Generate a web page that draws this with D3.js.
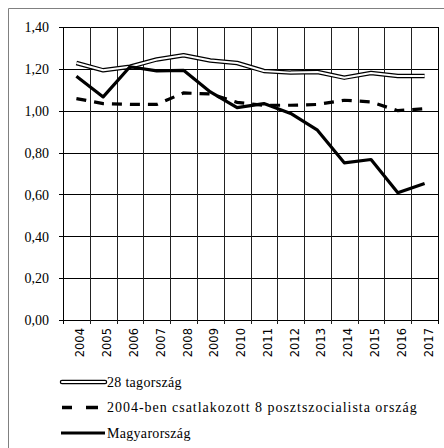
<!DOCTYPE html>
<html>
<head>
<meta charset="utf-8">
<script src="https://cdn.jsdelivr.net/npm/d3@7"></script>
<style>
body { margin: 0; background: #fff; }
svg { display: block; }
.serif { font-family: "Liberation Serif", "DejaVu Serif", serif; }
.sans { font-family: "DejaVu Sans", sans-serif; }
</style>
</head>
<body>
<svg width="444" height="448"></svg>
<script>
var years = ["2004","2005","2006","2007","2008","2009","2010","2011","2012","2013","2014","2015","2016","2017"]
var eu28 = [1.228, 1.193, 1.21, 1.245, 1.265, 1.24, 1.228, 1.19, 1.182, 1.185, 1.158, 1.18, 1.166, 1.166]
var nms8 = [1.058, 1.034, 1.03, 1.03, 1.085, 1.08, 1.04, 1.026, 1.026, 1.03, 1.05, 1.042, 1.0, 1.01]
var hu = [1.165, 1.066, 1.21, 1.19, 1.193, 1.09, 1.015, 1.034, 0.987, 0.907, 0.751, 0.767, 0.608, 0.652]
var yTicks = [0, 0.2, 0.4, 0.6, 0.8, 1.0, 1.2, 1.4]
var legendNames = ["28 tagország", "2004-ben csatlakozott 8 posztszocialista ország", "Magyarország"]

var svg = d3.select("svg")
var pLeft = 63, pRight = 438, pTop = 27, pBottom = 320

// outer frame (only top and left edges are inside the picture)
svg.append("path")
	.attr("d", "M8.5,448 V8.5 H444")
	.attr("fill", "none")
	.attr("stroke", "#808080")
	.attr("stroke-width", 1)

var x = d3.scaleBand().domain(years).range([pLeft, pRight])
var y = d3.scaleLinear().domain([0, 1.4]).range([pBottom, pTop])
var fmt = function(d){ return d3.format(".2f")(d).replace(".", ",") }

// horizontal grid + y axis
var ya = svg.append("g")
	.attr("transform", "translate(" + pLeft + ",0)")
	.call(d3.axisLeft(y).tickValues(yTicks).tickSize(-(pRight - pLeft)).tickPadding(10).tickFormat(fmt))
ya.select(".domain").remove()
ya.attr("font-family", null).attr("font-size", null)
ya.selectAll(".tick line").attr("stroke", "#000").attr("x1", -4).attr("shape-rendering", "crispEdges")
ya.selectAll(".tick text").attr("x", -14).attr("dy", "0.34em").attr("class", "serif").style("font-size", "14px").attr("fill", "#000")

// vertical grid at category boundaries
var bounds = years.map(function(d){ return x(d) }).concat([pRight])
svg.append("g").selectAll("line").data(bounds).enter().append("line")
	.attr("x1", function(d){ return Math.round(d) + 0.5 })
	.attr("x2", function(d){ return Math.round(d) + 0.5 })
	.attr("y1", pTop)
	.attr("y2", pBottom + 4)
	.attr("stroke", function(d, i){ return i == 0 || i == bounds.length - 1 ? "#000" : "#222" })
	.attr("stroke-width", 1)

// year labels
svg.append("g").selectAll("text").data(years).enter().append("text")
	.attr("transform", function(d){ return "translate(" + (x(d) + x.bandwidth() / 2 + 8) + "," + 328 + ") rotate(-90)" })
	.attr("text-anchor", "end")
	.attr("class", "sans")
	.style("font-size", "11.5px")
	.text(function(d){ return d })

var line = d3.line()
	.x(function(d, i){ return x(years[i]) + x.bandwidth() / 2 })
	.y(function(d){ return y(d) })

// 28 member states: double line
svg.append("path").attr("d", line(eu28)).attr("fill", "none").attr("stroke", "#000").attr("stroke-width", 4.5).attr("stroke-linejoin", "round")
svg.append("path").attr("d", line(eu28)).attr("fill", "none").attr("stroke", "#fff").attr("stroke-width", 2).attr("stroke-linejoin", "round")
// 8 post-socialist
svg.append("path").attr("d", line(nms8)).attr("fill", "none").attr("stroke", "#000").attr("stroke-width", 3.2).attr("stroke-dasharray", "10,8")
// Hungary
svg.append("path").attr("d", line(hu)).attr("fill", "none").attr("stroke", "#000").attr("stroke-width", 3.2).attr("stroke-linejoin", "round")

// legend
var lg = svg.append("g").attr("transform", "translate(61,382)")
var rowH = 25.5
lg.append("line").attr("x1", 1).attr("x2", 44).attr("y1", 0).attr("y2", 0).attr("stroke", "#000").attr("stroke-width", 4.5).attr("stroke-linecap", "round")
lg.append("line").attr("x1", 1).attr("x2", 44).attr("y1", 0).attr("y2", 0).attr("stroke", "#fff").attr("stroke-width", 2).attr("stroke-linecap", "round")
lg.append("line").attr("x1", 1).attr("x2", 37).attr("y1", rowH).attr("y2", rowH).attr("stroke", "#000").attr("stroke-width", 3.5).attr("stroke-dasharray", "10,14,12,0")
lg.append("line").attr("x1", 0).attr("x2", 44).attr("y1", rowH * 2).attr("y2", rowH * 2).attr("stroke", "#000").attr("stroke-width", 3.2)
lg.selectAll("text").data(legendNames).enter().append("text")
	.attr("x", 46)
	.attr("y", function(d, i){ return i * rowH + 4.5 })
	.attr("class", "serif")
	.style("font-size", "14px")
	.style("letter-spacing", "0.3px")
	.attr("textLength", function(d, i){ return i == 1 ? 310 : null })
	.attr("lengthAdjust", "spacing")
	.text(function(d){ return d })
</script>
</body>
</html>
